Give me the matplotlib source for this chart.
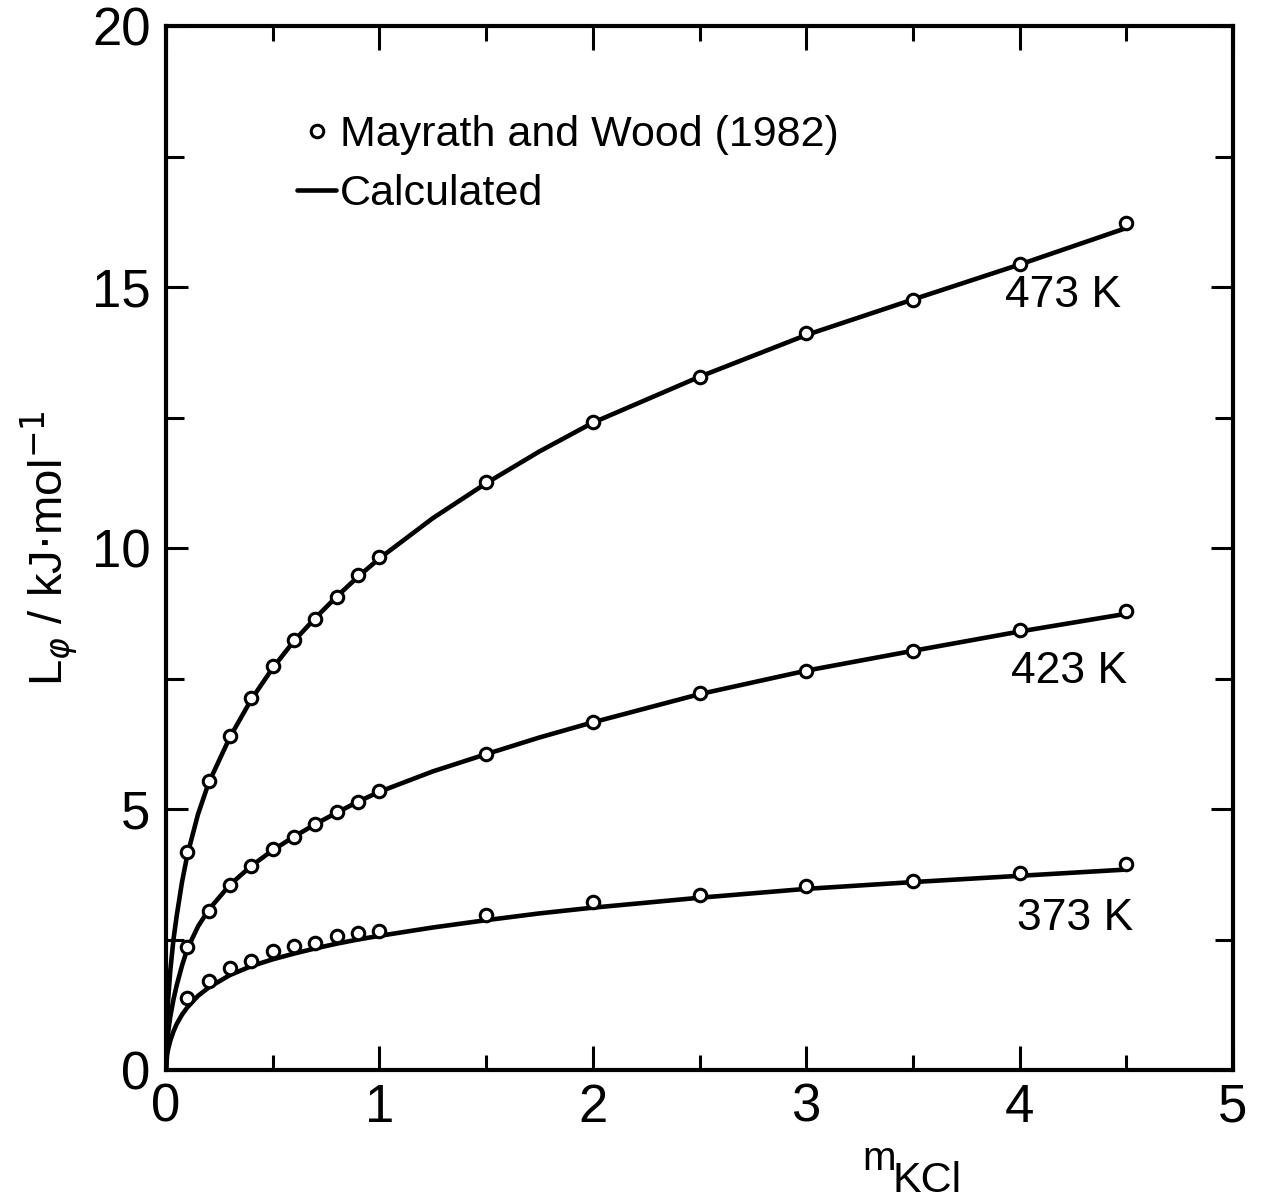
import numpy as np
import matplotlib.pyplot as plt
from matplotlib.ticker import MultipleLocator

plt.rcParams['font.family'] = ['Liberation Sans', 'DejaVu Sans']
plt.rcParams['mathtext.fontset'] = 'dejavusans'

# measured points (Mayrath and Wood 1982)
m_data = [0.1, 0.2, 0.3, 0.4, 0.5, 0.6, 0.7, 0.8, 0.9, 1.0,
          1.5, 2.0, 2.5, 3.0, 3.5, 4.0, 4.5]
L473_data = [4.17, 5.54, 6.39, 7.13, 7.73, 8.24, 8.64, 9.07, 9.48, 9.82,
             11.26, 12.42, 13.28, 14.12, 14.75, 15.45, 16.23]
L423_data = [2.36, 3.05, 3.55, 3.91, 4.23, 4.47, 4.71, 4.94, 5.14, 5.35,
             6.06, 6.67, 7.22, 7.64, 8.02, 8.42, 8.79]
L373_data = [1.37, 1.70, 1.95, 2.08, 2.28, 2.38, 2.43, 2.56, 2.63, 2.67,
             2.97, 3.21, 3.35, 3.52, 3.62, 3.77, 3.94]

# calculated curves
m_calc = [0, 0.005, 0.01, 0.02, 0.035, 0.05, 0.075, 0.1, 0.15, 0.2, 0.3, 0.4,
          0.5, 0.6, 0.7, 0.8, 0.9, 1.0, 1.25, 1.5, 1.75, 2.0, 2.5, 3.0, 3.5,
          4.0, 4.5]
L473_calc = [0, 0.95, 1.35, 1.9, 2.5, 2.95, 3.6, 4.12, 4.9, 5.5, 6.38, 7.1,
             7.7, 8.22, 8.66, 9.07, 9.45, 9.8, 10.57, 11.24, 11.85, 12.4,
             13.28, 14.08, 14.76, 15.43, 16.13]
L423_calc = [0, 0.5, 0.72, 1.02, 1.35, 1.62, 2.0, 2.32, 2.75, 3.07, 3.55,
             3.91, 4.21, 4.47, 4.71, 4.93, 5.14, 5.33, 5.72, 6.05, 6.37, 6.66,
             7.2, 7.65, 8.03, 8.4, 8.74]
L373_calc = [0, 0.28, 0.4, 0.56, 0.74, 0.88, 1.06, 1.2, 1.42, 1.58, 1.82,
             1.99, 2.12, 2.23, 2.33, 2.42, 2.5, 2.57, 2.73, 2.87, 3.0, 3.11,
             3.3, 3.47, 3.6, 3.72, 3.84]

temps = ['473 K', '423 K', '373 K']
label_pos = [(3.93, 14.62), (3.96, 7.41), (3.99, 2.68)]

W, H = 1264, 1204
fig = plt.figure(figsize=(W / 100, H / 100), dpi=100)
ax = fig.add_axes([166 / W, 1 - 1070 / H, 1067 / W, 1044 / H])

calc = [L473_calc, L423_calc, L373_calc]
data = [L473_data, L423_data, L373_data]
for i in range(3):
    line, = ax.plot(m_calc, calc[i], color='black', lw=3.3,
                    solid_capstyle='round', solid_joinstyle='round', zorder=2)
    pts, = ax.plot(m_data, data[i], 'o', ms=9, mew=2.2, mec='black',
                   mfc='white', zorder=3)
    ax.text(label_pos[i][0], label_pos[i][1], temps[i], fontsize=32,
            ha='left', va='baseline')

ax.set_xlim(0, 5)
ax.set_ylim(0, 20)
ax.xaxis.set_major_locator(MultipleLocator(1))
ax.xaxis.set_minor_locator(MultipleLocator(0.5))
ax.yaxis.set_major_locator(MultipleLocator(5))
ax.yaxis.set_minor_locator(MultipleLocator(2.5))
ax.tick_params(which='both', direction='in', top=True, right=True,
               width=2.2, labelsize=38)
ax.tick_params(axis='x', which='major', length=17, pad=9)
ax.tick_params(axis='x', which='minor', length=11)
ax.tick_params(axis='y', which='major', length=16, pad=11)
ax.tick_params(axis='y', which='minor', length=13)
for s in ax.spines.values():
    s.set_linewidth(3)

ax.legend([pts, line], ['Mayrath and Wood (1982)', 'Calculated'],
          loc='upper left', bbox_to_anchor=(0.123, 0.915), frameon=False,
          fontsize=31, handlelength=0.9, handletextpad=0.1,
          labelspacing=0.45, borderpad=0, borderaxespad=0)

ax.set_ylabel(r'L$_{\varphi}$ / kJ$\cdot$mol$^{-1}$', fontsize=34,
              labelpad=8)
fig.text(862 / W, 1 - 1170 / H, 'm', fontsize=29, ha='left',
         va='baseline')
fig.text(892 / W, 1 - 1192 / H, 'KCl', fontsize=31, ha='left',
         va='baseline')

fig.savefig('out.png', dpi=100)
